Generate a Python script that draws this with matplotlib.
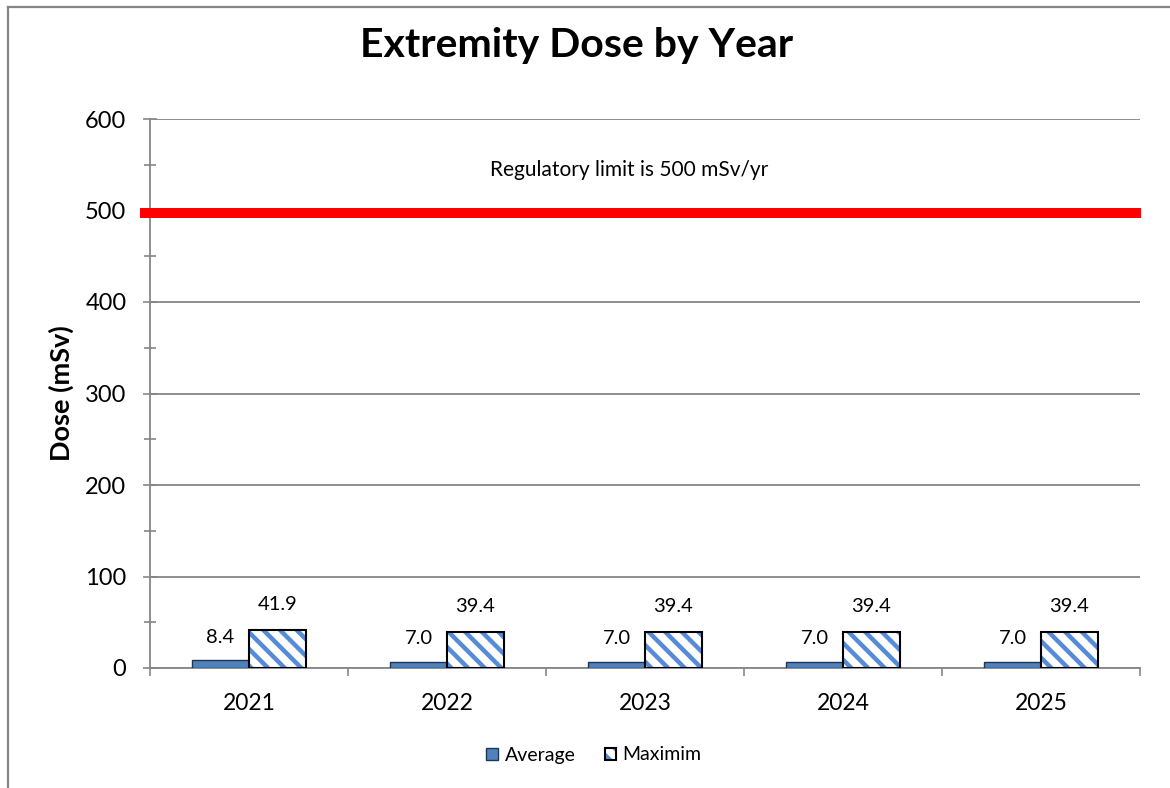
import matplotlib
matplotlib.use("Agg")
import matplotlib.pyplot as plt
import numpy as np
from matplotlib.lines import Line2D

years = ["2021", "2022", "2023", "2024", "2025"]
average = [8.4, 7.0, 7.0, 7.0, 7.0]
maximum = [41.9, 39.4, 39.4, 39.4, 39.4]
series_names = ["Average", "Maximim"]
limit_value = 497
limit_text = "Regulatory limit is 500 mSv/yr"
title = "Extremity Dose by Year"
ylabel = "Dose (mSv)"

plt.rcParams['font.family'] = ['Lato', 'DejaVu Sans']
plt.rcParams['hatch.linewidth'] = 3.2

fig = plt.figure(figsize=(11.7, 7.88), dpi=100)
W, H = 1170, 788
ax = fig.add_axes([150 / W, 1 - 668 / H, 990 / W, 549 / H])

GRAY = '#868686'
HATCH_BLUE = '#558BD8'

x = np.arange(len(years))
bw = 0.288
avg_bars = ax.bar(x - bw / 2, average, bw, color='#4F81BD', edgecolor='#1F3550', linewidth=1.0,
                  label=series_names[0], zorder=3)
hatch_bars = ax.bar(x + bw / 2, maximum, bw, color='white', edgecolor=HATCH_BLUE, linewidth=0,
                    hatch='\\\\', zorder=3)
outline_bars = ax.bar(x + bw / 2, maximum, bw, fill=False, edgecolor='black', linewidth=1.5,
                      zorder=3.5)

for xi, v in zip(x, average):
    ax.annotate(f"{v:.1f}", (xi - bw / 2, v), xytext=(0, 23), textcoords='offset pixels',
                ha='center', va='center', fontsize=14.5)
for xi, v in zip(x, maximum):
    ax.annotate(f"{v:.1f}", (xi + bw / 2, v), xytext=(0, 25), textcoords='offset pixels',
                ha='center', va='center', fontsize=14.5)

ax.set_xlim(-0.5, len(years) - 0.5)
ax.set_ylim(0, 600)
ax.set_yticks(np.arange(0, 601, 100))
ax.set_yticks(np.arange(50, 600, 100), minor=True)
ax.set_xticks(x)
ax.set_xticklabels(years, fontsize=16.5)
ax.set_xticks(np.arange(-0.5, len(years)), minor=True)
ax.tick_params(axis='y', which='major', labelsize=17, length=10, direction='inout', color=GRAY,
               width=1.2, pad=12)
ax.tick_params(axis='y', which='minor', length=8, direction='inout', color=GRAY, width=1.2)
ax.tick_params(axis='x', which='major', length=0, pad=18)
ax.tick_params(axis='x', which='minor', length=6, direction='out', color=GRAY, width=1.2)

ax.grid(axis='y', which='major', color=GRAY, linewidth=1.3, zorder=0)
ax.set_axisbelow(True)
for s in ['top', 'right']:
    ax.spines[s].set_visible(False)
for s in ['left', 'bottom']:
    ax.spines[s].set_color(GRAY)
    ax.spines[s].set_linewidth(1.3)

ax.axhline(limit_value, xmin=-10 / 990, xmax=991 / 990, color='#FF0000', linewidth=7.2,
           solid_capstyle='butt', clip_on=False, zorder=4)
ax.text(1.92, 544, limit_text, ha='center', va='center', fontsize=15)

ax.set_ylabel(ylabel, fontsize=19.5, fontweight='bold')
ax.yaxis.set_label_coords((74 - 150) / 990, 0.5)
fig.text(577 / W, 1 - 45 / H, title, ha='center', va='center', fontsize=29.5, fontweight='bold')

fig.legend([avg_bars, (hatch_bars, outline_bars)], series_names, loc='center',
           bbox_to_anchor=(594 / W, 1 - 755 / H), ncol=2,
           frameon=False, fontsize=14, handlelength=0.58, handleheight=0.58,
           handletextpad=0.35, columnspacing=1.5)

fig.add_artist(Line2D([8 / W, 8 / W], [0, 1 - 7 / H], color=GRAY, linewidth=1.6))
fig.add_artist(Line2D([8 / W, 1], [1 - 7 / H, 1 - 7 / H], color=GRAY, linewidth=1.6))

fig.savefig("out.png", dpi=100)
